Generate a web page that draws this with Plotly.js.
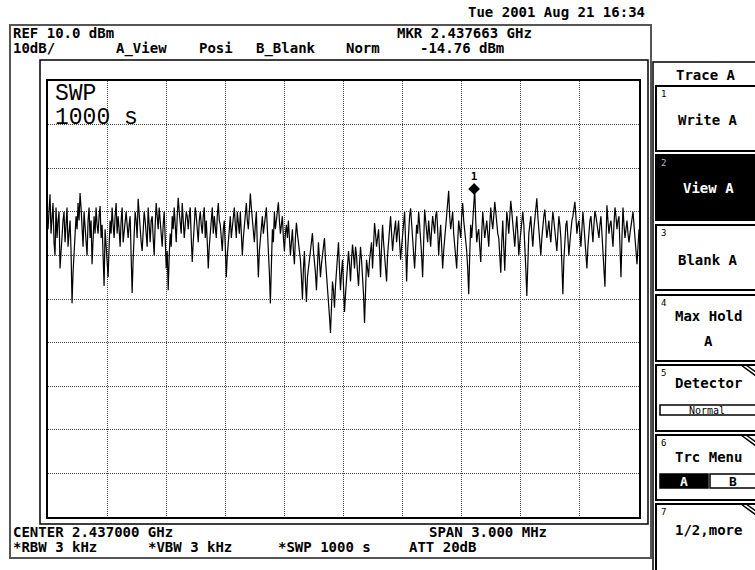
<!DOCTYPE html>
<html><head><meta charset="utf-8">
<script src="https://cdn.plot.ly/plotly-3.0.1.min.js"></script>
<style>html,body{margin:0;padding:0;background:#fff;}#chart{width:755px;height:570px;}</style>
</head><body><div id="chart"></div>
<script>
// ---- instrument settings ----
const centerGHz = 2.437;
const spanGHz = 0.003;
const refLevelDbm = 10;
const dbPerDiv = 10;
const markerFreqGHz = 2.437663;
const markerLevelDbm = -14.76;

// ---- trace A (dBm), left to right ----
const traceDbm = [
 -24,-20,-16,-25,-21,-18,-27,-30,-19,-26,-22,-20,-33,-29,-25,-22,-20,-27,-23,-19,
 -28,-25,-22,-29,-41,-34,-30,-26,-21,-24,-18,-22,-15.7,-19,-24,-28,-20,-23,-27,-30,
 -22,-19,-26,-22,-32,-27,-21,-25,-19,-23,-25,-21,-18.7,-26,-23,-30,-37,-24,-27,-31,
 -35,-28,-22,-25,-19,-23,-26,-21,-18,-25,-21,-24,-28,-22,-19,-27,-24,-21,-20,-23,
 -26,-23,-21,-30,-38.6,-31,-25,-20,-22,-26,-17,-21,-23,-27,-29,-24,-20,-22,-25,-28,
 -19,-23,-27,-22,-21,-26,-30,-23,-18,-21,-24,-19,-22,-25,-28,-23,-20,-26,-33,-29,
 -38,-30,-25,-28,-21,-24,-19,-23,-27,-21,-16.8,-20,-22,-25,-18,-22,-26,-23,-20,-21,
 -24,-21,-19,-26,-31.5,-27,-23,-19,-21,-24,-27,-22,-20,-23,-25,-21,-19,-26,-22,-27,
 -33,-28,-24,-22,-19,-25,-21,-24,-26,-21,-18,-22,-23,-26,-29,-24,-22,-28,-35,-30,
 -27,-23,-21,-26,-24,-21,-19,-23,-26,-20,-22,-25,-20,-24,-30,-26,-23,-21,-18,-22,
 -24,-20,-15.8,-19,-22,-25,-27,-23,-20,-28,-35,-29,-26,-23,-21,-25,-23,-21,-19,-24,
 -28,-34,-41,-30,-24,-27,-20,-24,-22,-19,-17.8,-22,-25,-23,-21,-26,-29,-25,-23,-26,
 -22,-26,-30,-27,-24,-29,-32,-26,-22.5,-25,-27,-29,-31,-35,-40,-33,-29,-36,-40.7,-35,
 -33,-30,-28,-26,-24.9,-29,-31,-34,-38,-32,-27,-31,-35,-32,-30,-28,-26,-31,-34,-36,
 -39,-44,-47.8,-41,-36,-38,-42,-37,-34,-31,-27,-33,-38,-34,-31,-37,-43,-39,-35,-32,
 -29,-32,-36,-31,-27.5,-30,-33,-28,-30,-34,-37,-32,-28,-31,-34,-39,-45.5,-38,-31,-33,
 -35,-31,-29,-27,-33,-26,-22.6,-25,-28,-26,-24,-29,-35,-28,-23,-27,-30,-32,-36,-30,
 -26,-23,-21,-25,-29,-26,-24,-22,-27,-25,-22,-27,-31,-28,-25,-23,-20,-27,-36,-29,
 -24,-21,-19.2,-23,-27,-29,-33,-28,-23,-25,-20,-23,-26,-30,-35,-27,-19.5,-22,-25,-27,
 -22,-25,-28,-24,-21,-23,-25,-21,-19.8,-24,-30,-26,-23,-28,-33,-29,-26,-23,-21,-19,
 -15.2,-21,-24,-22,-20,-25,-28,-30,-33,-27,-22,-24,-26,-21,-18,-22,-24,-26,-29,-33,
 -38.9,-30,-23,-26,-21.5,-19,-14.76,-22,-27,-25,-24,-28,-31.5,-25,-20,-23,-26,-24,-22,-25,
 -28,-23,-19,-22,-24,-21,-17.7,-20,-23,-25,-26,-29,-34,-27,-22,-28,-33.5,-26,-20,-22,
 -25,-21,-17.5,-20,-23,-26,-28,-24,-21,-25,-30,-27,-24,-22,-20,-23,-27,-33,-39.3,-31,
 -25,-23,-21,-25,-28,-24,-22,-19,-16.9,-21,-24,-27,-30,-26,-23,-21,-19.5,-23,-26,-24,
 -22,-25,-27,-23,-20,-22,-24,-27,-29,-25,-21,-23,-26,-32,-38.9,-31,-25,-23,-22,-26,
 -30,-27,-24,-22,-21,-19,-17.7,-21,-25,-23,-22,-25,-28,-24,-20,-23,-26,-29,-33,-28,
 -24,-22,-21,-24,-27,-23,-19.8,-21,-23,-25,-26,-23,-21,-25,-29,-33,-37.2,-27,-18.5,-22,
 -25,-23,-22,-25,-28,-23,-19,-21,-24,-22,-21,-28,-35,-26,-19,-23,-26,-24,-22,-25,
 -27,-25,-23,-21,-20,-23,-26,-29,-32,-28,-24
];

// ---- screen texts ----
const dateText = "Tue 2001 Aug 21 16:34";
const headRow1 = ["REF 10.0 dBm", "MKR 2.437663 GHz"];
const headRow2 = ["10dB/", "A_View", "Posi", "B_Blank", "Norm", "-14.76 dBm"];
const footRow1 = ["CENTER 2.437000 GHz", "SPAN 3.000 MHz"];
const footRow2 = ["*RBW 3 kHz", "*VBW 3 kHz", "*SWP 1000 s", "ATT 20dB"];
const swpLines = ["SWP", "1000 s"];
const softTitle = "Trace A";
const softKeys = ["Write A", "View A", "Blank A", "Max Hold", "Detector", "Trc Menu", "1/2,more"];
const detectorMode = "Normal";
const trcMenuChoices = ["A", "B"];

const fStart = centerGHz - spanGHz / 2, fStop = centerGHz + spanGHz / 2;
const freq = traceDbm.map((_, i) => fStart + i * spanGHz / (traceDbm.length - 1));

// pixel -> paper helpers (plot area 48..639 x 81..517)
const L = 48, R = 639, T = 81, B = 517;
const px = x => (x - L) / (R - L);
const py = y => (B - y) / (B - T);

const MONO = "DejaVu Sans Mono";
const shapes = [];
const ann = [];
function rect(x0, y0, x1, y1, o) {
  o = o || {};
  shapes.push({type: 'rect', xref: 'paper', yref: 'paper', x0: px(x0), x1: px(x1), y0: py(y1), y1: py(y0),
    line: {color: o.color || '#000', width: o.w === undefined ? 1.5 : o.w}, fillcolor: o.fill || 'rgba(0,0,0,0)', layer: 'above'});
}
function line(x0, y0, x1, y1, o) {
  o = o || {};
  shapes.push({type: 'line', xref: 'paper', yref: 'paper', x0: px(x0), x1: px(x1), y0: py(y0), y1: py(y1),
    line: {color: o.color || '#000', width: o.w || 1.5}, layer: 'above'});
}
function txt(s, x, y, o) {
  o = o || {};
  ann.push({text: s, xref: 'paper', yref: 'paper', x: px(x), y: py(y), xanchor: o.anchor || 'left', yanchor: 'middle',
    showarrow: false, borderpad: 0,
    font: {family: o.family || MONO, size: o.size || 14, color: o.color || '#000', weight: o.weight || 'bold'}});
}

// frames
rect(10, 25, 651, 558, {w: 2, color: '#555'});
rect(40, 60, 648, 524, {w: 1.5});

// header / footer texts
txt(dateText, 646, 12, {anchor: 'right'});
txt(headRow1[0], 12, 33);
txt(headRow1[1], 396, 33);
const row2x = [12, 115, 198, 255, 345, 419];
headRow2.forEach((s, i) => txt(s, row2x[i], 48));
txt(footRow1[0], 12, 532);
txt(footRow1[1], 428, 532);
const foot2x = [12, 147, 277, 408];
footRow2.forEach((s, i) => txt(s, foot2x[i], 547));

// SWP text in the graticule
txt(swpLines[0], 54, 94, {family: 'Liberation Mono', size: 23, weight: 'normal'});
txt(swpLines[1], 54, 118, {family: 'Liberation Mono', size: 23, weight: 'normal'});

// soft key panel
rect(653, 62, 760, 575, {w: 1.5});
txt(softTitle, 706, 75, {anchor: 'center', size: 14});
const keyTop = [86, 155, 225, 295, 365, 435, 504];
const keyBot = [151, 220, 290, 361, 431, 500, 575];
const keyTextY = [120, 188, 260, 316, 383, 457, 530];
softKeys.forEach((s, i) => {
  const dark = i === 1;
  rect(656, keyTop[i], 760, keyBot[i], {w: 2, fill: dark ? '#000' : '#fff'});
  txt(String(i + 1), 660, keyTop[i] + 8, {size: 9, weight: 'normal', color: dark ? '#bbb' : '#000'});
  txt(s, 708, keyTextY[i], {anchor: 'center', size: 14, color: dark ? '#fff' : '#000'});
  if (i >= 4) {
    line(741, keyTop[i], 756, keyTop[i] + 11, {w: 1.5});
    line(746, keyTop[i], 756, keyTop[i] + 7, {w: 1.5});
  }
});
txt("A", 708, 341, {anchor: 'center', size: 14});
rect(660, 405, 760, 415, {w: 1.5, fill: '#fff'});
txt(detectorMode, 707, 410, {anchor: 'center', size: 10, weight: 'normal', color: '#000'});
rect(660, 474, 708, 488, {w: 1.5, fill: '#000'});
rect(710, 474, 760, 488, {w: 1.5, fill: '#fff'});
txt(trcMenuChoices[0], 684, 481, {anchor: 'center', size: 13, color: '#fff'});
txt(trcMenuChoices[1], 733, 481, {anchor: 'center', size: 13});

const axisCommon = {showticklabels: false, ticks: '', showgrid: true, gridcolor: '#444', griddash: '1px,1px', gridwidth: 1,
  zeroline: false, showline: true, mirror: true, linecolor: '#000', linewidth: 2, fixedrange: true};

const data = [
  {type: 'scatter', mode: 'lines', x: freq, y: traceDbm, line: {color: '#000', width: 1.2}, hoverinfo: 'skip'},
  {type: 'scatter', mode: 'markers+text', x: [markerFreqGHz], y: [markerLevelDbm], text: ['1'], textposition: 'top center',
    textfont: {family: MONO, size: 11, color: '#000', weight: 'bold'},
    marker: {symbol: 'diamond', size: 9, color: '#000'}, hoverinfo: 'skip', cliponaxis: false}
];

const layout = {
  width: 755, height: 570,
  margin: {l: L, r: 755 - R, t: T, b: 570 - B, pad: 0},
  paper_bgcolor: '#fff', plot_bgcolor: '#fff', showlegend: false,
  xaxis: Object.assign({range: [fStart, fStop], tick0: fStart, dtick: spanGHz / 10}, axisCommon),
  yaxis: Object.assign({range: [refLevelDbm - 10 * dbPerDiv, refLevelDbm], tick0: refLevelDbm, dtick: dbPerDiv}, axisCommon),
  shapes: shapes, annotations: ann
};
Plotly.newPlot('chart', data, layout, {staticPlot: true, displayModeBar: false});
</script></body></html>
